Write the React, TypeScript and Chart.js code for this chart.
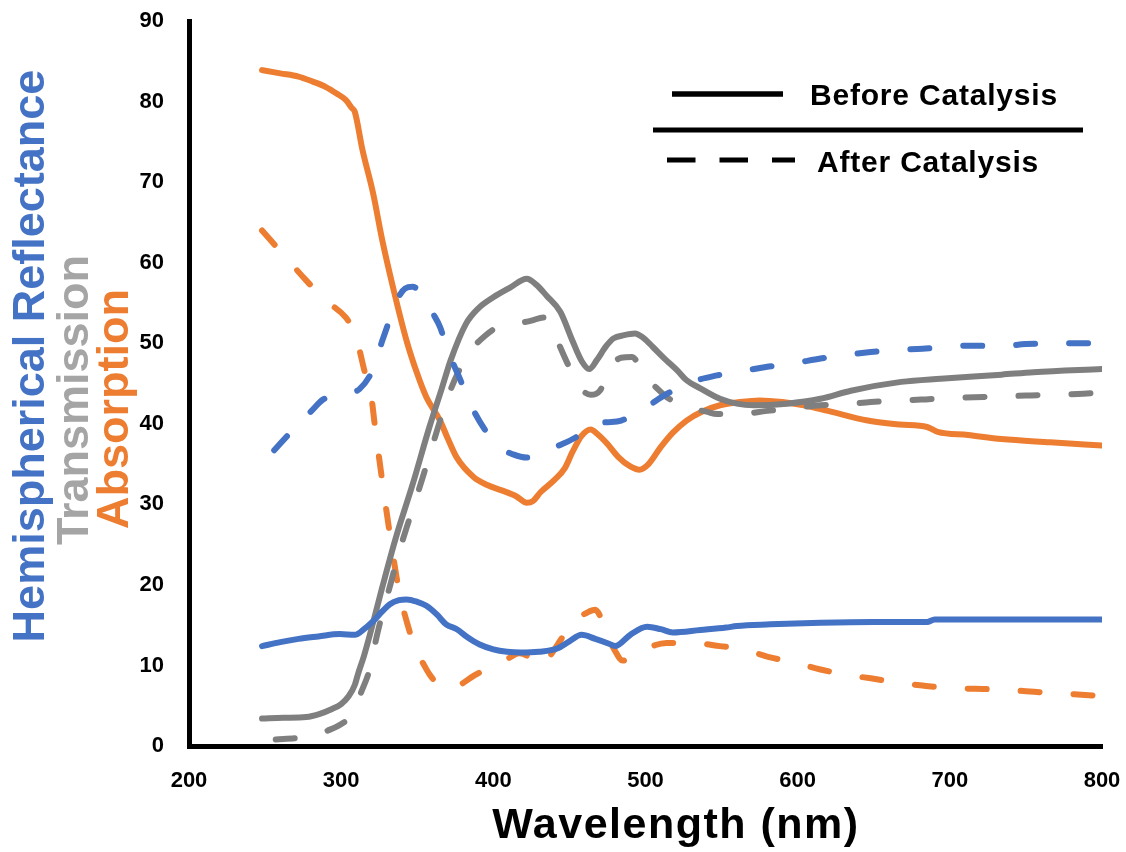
import { useEffect, useRef } from "react";
import { Chart, registerables } from "chart.js";

Chart.register(...registerables);

// Spectra as [wavelength (nm), percent] pairs
const reflectanceBefore: [number, number][] = [
  [248, 12.4], [260, 12.9], [272, 13.3], [285, 13.6], [299, 13.9], [309, 13.8], [315, 14.5],
  [321, 15.5], [327, 16.7], [332, 17.6], [338, 18.1], [343, 18.2], [350, 17.9], [356, 17.4],
  [363, 16.3], [369, 15.1], [376, 14.5], [383, 13.5], [391, 12.6], [400, 12.0], [409, 11.7],
  [418, 11.6], [430, 11.7], [442, 12.1], [450, 13.0], [458, 13.8], [467, 13.3], [476, 12.7],
  [480, 12.4], [490, 13.8], [501, 14.8], [510, 14.5], [518, 14.1], [536, 14.4], [553, 14.7],
  [560, 14.9], [582, 15.1], [615, 15.3], [650, 15.4], [685, 15.4], [690, 15.7], [740, 15.7],
  [800, 15.7],
];

const reflectanceAfter: [number, number][] = [
  [256, 36.7], [268, 39.2], [281, 41.7], [288, 43.0], [296, 43.4], [304, 43.8], [312, 44.3],
  [321, 46.8], [327, 50.3], [333, 53.5], [338, 55.8], [342, 56.8], [347, 57.0], [355, 55.5],
  [360, 53.8], [365, 52.0], [370, 49.1], [378, 45.6], [384, 42.8], [394, 39.4], [404, 37.1],
  [413, 36.2], [422, 35.8], [431, 36.3], [443, 37.3], [454, 38.3], [466, 40.0], [475, 40.2],
  [484, 40.4], [499, 41.9], [514, 43.7], [529, 45.1], [547, 46.0], [562, 46.5], [581, 47.1],
  [597, 47.5], [615, 48.1], [630, 48.5], [648, 48.9], [665, 49.2], [682, 49.3], [698, 49.6],
  [716, 49.7], [734, 49.6], [750, 49.9], [800, 50.0],
];

const transmissionBefore: [number, number][] = [
  [248, 3.4], [262, 3.5], [277, 3.6], [286, 4.0], [294, 4.6], [300, 5.2], [305, 6.2],
  [309, 7.6], [311, 8.9], [315, 11.2], [319, 13.9], [327, 19.7], [336, 25.9], [347, 32.5],
  [358, 39.6], [366, 44.3], [372, 47.9], [382, 52.4], [390, 54.3], [400, 55.7], [411, 56.9],
  [422, 58.0], [428, 57.3], [435, 55.9], [444, 53.9], [452, 50.3], [458, 47.8], [463, 46.8],
  [468, 47.9], [474, 49.6], [479, 50.6], [486, 51.0], [493, 51.2], [499, 50.6], [505, 49.5],
  [513, 48.0], [521, 46.6], [527, 45.4], [536, 44.4], [549, 43.1], [560, 42.5], [571, 42.3],
  [593, 42.5], [615, 43.1], [635, 44.1], [668, 45.2], [694, 45.6], [734, 46.1], [755, 46.4],
  [800, 46.8],
];

const transmissionAfter: [number, number][] = [
  [257, 0.8], [272, 1.0], [283, 1.3], [291, 1.9], [298, 2.5], [304, 3.3], [309, 4.8],
  [313, 6.6], [319, 9.7], [323, 13.3], [327, 16.4], [333, 20.5], [337, 23.4], [343, 27.1],
  [348, 30.0], [354, 33.6], [359, 36.7], [365, 40.4], [370, 43.3], [378, 46.8], [387, 49.5],
  [395, 51.0], [401, 51.8], [415, 52.4], [425, 52.8], [433, 53.2], [437, 52.2], [442, 50.3],
  [450, 47.0], [458, 44.3], [464, 43.6], [470, 44.1], [477, 47.0], [484, 48.2], [491, 48.3],
  [500, 45.8], [507, 44.5], [514, 43.3], [527, 42.1], [540, 41.5], [547, 41.2], [561, 41.2],
  [580, 41.6], [595, 41.9], [615, 42.3], [630, 42.4], [648, 42.7], [664, 42.9], [681, 43.0],
  [698, 43.2], [716, 43.3], [734, 43.4], [750, 43.5], [766, 43.6], [784, 43.7], [800, 43.9],
];

const absorptionBefore: [number, number][] = [
  [248, 83.9], [260, 83.5], [272, 83.1], [281, 82.5], [290, 81.8], [297, 81.0], [303, 80.2],
  [307, 79.2], [309, 78.7], [314, 74.0], [321, 68.6], [327, 62.8], [334, 57.0], [343, 50.3],
  [350, 46.2], [356, 43.3], [365, 40.4], [370, 38.2], [376, 35.8], [387, 33.4], [396, 32.4],
  [406, 31.7], [415, 31.0], [422, 30.2], [426, 30.4], [431, 31.5], [440, 33.0], [447, 34.5],
  [452, 36.5], [458, 38.5], [464, 39.3], [468, 38.8], [475, 37.5], [482, 35.9], [490, 34.7],
  [496, 34.3], [502, 35.0], [510, 37.1], [518, 38.9], [527, 40.4], [537, 41.5], [549, 42.3],
  [562, 42.7], [575, 42.9], [590, 42.7], [604, 42.3], [620, 41.6], [646, 40.4], [667, 39.9],
  [685, 39.6], [692, 39.0], [712, 38.6], [734, 38.1], [766, 37.7], [800, 37.3],
];

const absorptionAfter: [number, number][] = [
  [248, 64.0], [262, 61.0], [277, 57.8], [290, 55.3], [303, 53.2], [307, 52.0], [311, 49.9],
  [315, 46.8], [320, 43.1], [322, 40.0], [327, 32.9], [332, 26.3], [338, 19.3], [343, 15.5],
  [349, 12.0], [354, 10.2], [358, 8.9], [363, 7.8], [369, 7.2], [378, 7.6], [387, 8.7],
  [402, 10.2], [410, 10.9], [417, 11.5], [424, 11.0], [430, 9.9], [436, 10.9], [444, 13.1],
  [452, 15.5], [460, 16.4], [467, 16.9], [470, 16.2], [475, 13.7], [480, 11.8], [485, 10.6],
  [491, 11.0], [498, 11.7], [506, 12.5], [514, 12.8], [530, 12.8], [549, 12.4], [564, 12.0],
  [582, 11.0], [597, 10.4], [615, 9.5], [630, 8.9], [648, 8.4], [665, 7.9], [682, 7.5],
  [698, 7.2], [716, 7.1], [734, 7.0], [750, 6.8], [766, 6.6], [784, 6.4], [800, 6.2],
];

const X_MIN = 200;
const X_MAX = 800;
const X_STEP = 100;
const Y_MIN = 0;
const Y_MAX = 90;
const Y_STEP = 10;

const BLUE = "#4472C4";
const ORANGE = "#ED7D31";
const GRAY = "#7F7F7F";
const LIGHT_GRAY = "#A5A5A5";

const FONT = '"Liberation Sans", Arial, Helvetica, sans-serif';
const DASH = [19, 34];

const W = 1126;
const H = 852;

const toPoints = (s: [number, number][]) => s.map(([x, y]) => ({ x, y }));

const series = (data: [number, number][], color: string, dashed: boolean) => ({
  data: toPoints(data),
  borderColor: color,
  backgroundColor: color,
  borderWidth: 6,
  borderDash: dashed ? DASH : [],
  borderCapStyle: "round" as const,
  borderJoinStyle: "round" as const,
  pointRadius: 0,
  pointHoverRadius: 0,
  cubicInterpolationMode: "monotone" as const,
  fill: false,
});

// Keep the plot box fixed: ignore the extra room Chart.js reserves for edge labels
const fixScale = (size: "width" | "height", value: number) => (s: any) => {
  s[size] = value;
  s.paddingTop = 0;
  s.paddingBottom = 0;
  s.paddingLeft = 0;
  s.paddingRight = 0;
};

// Axis titles and the line-style key, drawn on top of the plot
const annotations = {
  id: "annotations",
  afterDraw(chart: Chart) {
    const ctx = chart.ctx;
    ctx.save();
    const c = ctx as any;

    // Rotated y-axis titles, one per quantity
    const rotated = (text: string, color: string, x: number, y: number) => {
      ctx.save();
      ctx.translate(x, y);
      ctx.rotate(-Math.PI / 2);
      ctx.font = `bold 45px ${FONT}`;
      ctx.fillStyle = color;
      ctx.textAlign = "center";
      ctx.textBaseline = "alphabetic";
      ctx.fillText(text, 0, 0);
      ctx.restore();
    };
    rotated("Hemispherical Reflectance", BLUE, 44, 356);
    rotated("Transmission", LIGHT_GRAY, 88, 400);
    rotated("Absorption", ORANGE, 128, 409);

    // x-axis title
    ctx.fillStyle = "#000";
    ctx.font = `bold 43px ${FONT}`;
    c.letterSpacing = "1.5px";
    ctx.textAlign = "center";
    ctx.textBaseline = "alphabetic";
    ctx.fillText("Wavelength (nm)", 676, 838);

    // Key: solid = before, dashed = after
    ctx.strokeStyle = "#000";
    ctx.lineCap = "butt";
    ctx.lineWidth = 5.5;
    ctx.setLineDash([]);
    ctx.beginPath();
    ctx.moveTo(672, 94);
    ctx.lineTo(783, 94);
    ctx.stroke();

    ctx.lineWidth = 5;
    ctx.beginPath();
    ctx.moveTo(653, 130);
    ctx.lineTo(1083, 130);
    ctx.stroke();

    ctx.setLineDash([28.5, 24]);
    ctx.beginPath();
    ctx.moveTo(667, 160);
    ctx.lineTo(795, 160);
    ctx.stroke();
    ctx.setLineDash([]);

    ctx.font = `bold 30px ${FONT}`;
    c.letterSpacing = "0.8px";
    ctx.textAlign = "left";
    ctx.fillText("Before Catalysis", 810, 105);
    ctx.fillText("After Catalysis", 817, 172);
    c.letterSpacing = "0px";

    ctx.restore();
  },
};

export default function App() {
  const canvasRef = useRef<HTMLCanvasElement | null>(null);

  useEffect(() => {
    const canvas = canvasRef.current;
    if (!canvas) return;
    const tickFont = { family: FONT, size: 22, weight: "bold" as const };

    const chart = new Chart(canvas, {
      type: "line",
      data: {
        datasets: [
          series(reflectanceBefore, BLUE, false),
          series(reflectanceAfter, BLUE, true),
          series(transmissionBefore, GRAY, false),
          series(transmissionAfter, GRAY, true),
          series(absorptionBefore, ORANGE, false),
          series(absorptionAfter, ORANGE, true),
        ],
      },
      options: {
        animation: false,
        responsive: false,
        devicePixelRatio: 1,
        layout: { padding: { left: 0, top: 21, right: 24, bottom: 0 } },
        plugins: {
          legend: { display: false },
          tooltip: { enabled: false },
          title: { display: false },
        },
        scales: {
          x: {
            type: "linear",
            min: X_MIN,
            max: X_MAX,
            ticks: {
              stepSize: X_STEP,
              color: "#000",
              font: tickFont,
              padding: 22,
              maxRotation: 0,
            },
            grid: { display: false, drawTicks: false },
            border: { display: true, color: "#000", width: 5 },
            afterFit: fixScale("height", 106),
          },
          y: {
            type: "linear",
            min: Y_MIN,
            max: Y_MAX,
            ticks: {
              stepSize: Y_STEP,
              color: "#000",
              font: tickFont,
              padding: 25,
            },
            grid: { display: false, drawTicks: false },
            border: { display: true, color: "#000", width: 5 },
            afterFit: fixScale("width", 189),
          },
        },
      },
      plugins: [annotations],
    });

    return () => chart.destroy();
  }, []);

  return (
    <div style={{ position: "absolute", left: 0, top: 0, width: W, height: H, background: "#fff" }}>
      <canvas ref={canvasRef} width={W} height={H} style={{ display: "block" }} />
    </div>
  );
}
